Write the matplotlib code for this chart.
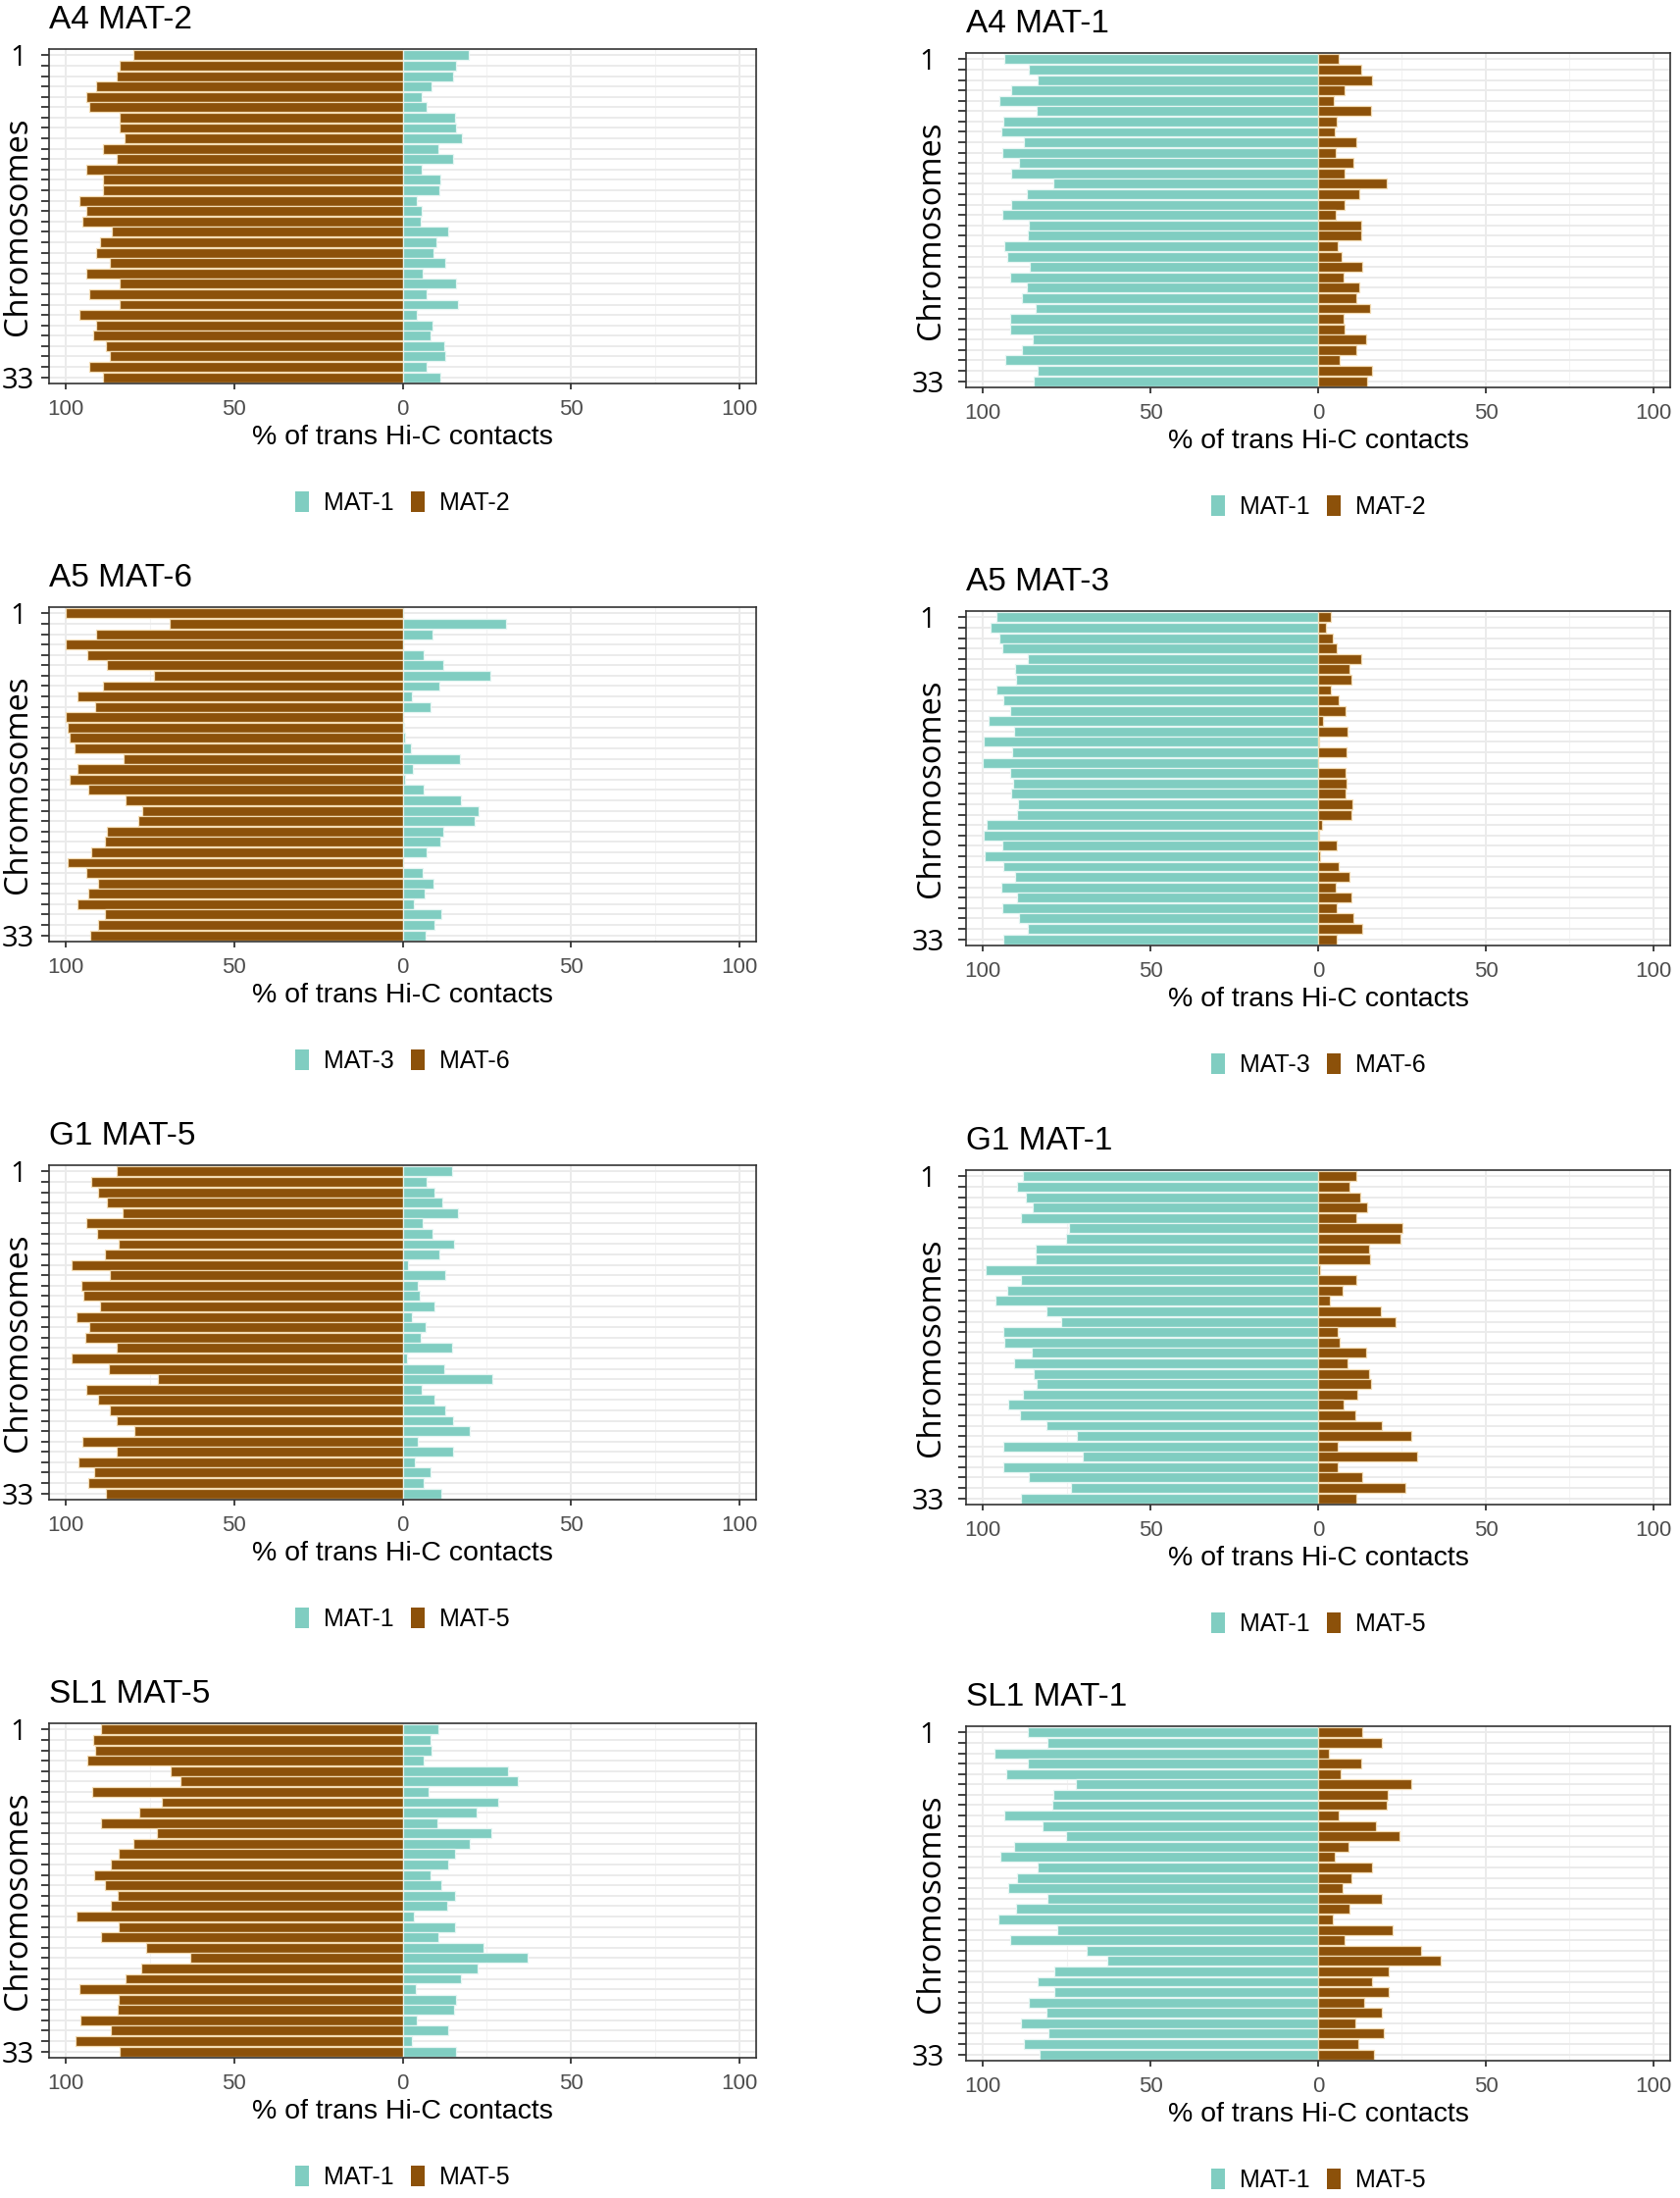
import matplotlib
matplotlib.use("Agg")
import matplotlib.pyplot as plt
from matplotlib.patches import Patch
import numpy as np

TEAL = "#80cdc1"
BROWN = "#8c510a"

# chromosome axis: 32 bars, only first and last get a label
chrom_labels = ["1"] + [""] * 30 + ["33"]
x_ticks = [-100, -50, 0, 50, 100]
x_ticklabels = ["100", "50", "0", "50", "100"]

# --- data (left = own mating type, right = partner) ---
# A4 MAT-2
a4_mat2_left = [80, 84, 85, 91, 94, 93, 84, 84, 82.5, 89, 85, 94, 89, 89, 96, 94,
                95, 86.5, 90, 91, 87, 94, 84, 93, 84, 96, 91, 92, 88, 87, 93, 89]
a4_mat2_right = [19.8, 16, 15, 8.7, 5.7, 7.2, 15.7, 16, 17.7, 10.5, 15, 5.7, 11.2, 10.8, 4.2, 5.7,
                 5.4, 13.5, 10, 9.3, 12.7, 6, 16, 7, 16.5, 4.2, 9, 8.4, 12.4, 12.7, 7, 11.2]
# A4 MAT-1
a4_mat1_left = [93.7, 86.4, 83.6, 91.4, 95, 83.9, 93.8, 94.6, 87.8, 94.1, 89.2, 91.6, 79, 87, 91.4, 94.1,
                86.3, 86.6, 93.7, 92.6, 86.1, 91.9, 87, 88.3, 84.2, 91.9, 91.7, 85.2, 88.3, 93.2, 83.6, 84.9]
a4_mat1_right = [6, 12.8, 16.1, 8, 4.7, 15.8, 5.7, 5.1, 11.4, 5.3, 10.5, 8, 20.5, 12.3, 8, 5.3,
                 12.8, 12.8, 5.9, 6.9, 13.3, 7.5, 12.3, 11.4, 15.4, 7.5, 7.8, 14.2, 11.4, 6.3, 16.1, 14.6]
# A5 MAT-6
a5_mat6_left = [100, 69.2, 90.9, 100, 93.5, 87.8, 73.8, 88.9, 96.6, 91.4, 100, 99.4, 98.9, 97.5, 82.9, 96.5,
                98.9, 93.4, 82.4, 77.3, 78.6, 87.8, 88.4, 92.6, 99.5, 93.8, 90.4, 93.4, 96.5, 88.3, 90.4, 92.9]
a5_mat6_right = [0, 30.8, 8.9, 0, 6.3, 12, 26, 10.8, 2.8, 8.3, 0, 0.4, 0.8, 2.5, 17, 3.2,
                 0.8, 6.3, 17.3, 22.5, 21.3, 12, 11.2, 7.2, 0, 6, 9.1, 6.5, 3.4, 11.6, 9.4, 6.9]
# A5 MAT-3
a5_mat3_left = [96, 97.8, 95.2, 94.3, 86.7, 90.5, 90.2, 96, 94, 91.7, 98.4, 90.8, 99.7, 91.3, 100, 91.7,
                91.1, 91.4, 89.4, 89.8, 98.9, 99.8, 94.3, 99.4, 93.8, 90.3, 94.6, 89.8, 94.3, 89.2, 86.7, 93.8]
a5_mat3_right = [3.7, 2.4, 4.4, 5.6, 13, 9.4, 9.8, 3.7, 6.2, 8.1, 1.6, 8.9, 0.3, 8.6, 0, 8.1,
                 8.6, 8.3, 10.3, 10, 1.1, 0.3, 5.7, 0.5, 6.2, 9.4, 5.4, 10, 5.7, 10.6, 13.2, 5.7]
# G1 MAT-5
g1_mat5_left = [84.8, 92.6, 90.3, 87.7, 83.3, 93.8, 90.6, 84.2, 88.5, 98.2, 86.8, 95.4, 94.7, 90, 96.7, 93,
                94.2, 84.8, 98.2, 87.3, 72.8, 93.8, 90.4, 87, 84.8, 79.8, 95, 84.8, 96.4, 91.5, 93.3, 88.2]
g1_mat5_right = [14.7, 7, 9.4, 11.8, 16.5, 5.9, 9, 15.2, 10.9, 1.7, 12.6, 4.4, 5.2, 9.4, 2.9, 6.7,
                 5.5, 14.7, 1.2, 12.3, 26.7, 5.8, 9.4, 12.7, 14.9, 20, 4.6, 14.9, 3.5, 8.2, 6.4, 11.4]
# G1 MAT-1
g1_mat1_left = [88, 89.9, 87.3, 85.2, 88.7, 74.2, 75.2, 84.3, 84.3, 99.1, 88.7, 92.6, 96.2, 81.1, 76.6, 94,
                93.6, 85.5, 90.7, 84.7, 84, 88, 92.3, 88.8, 81.1, 72, 93.9, 70.3, 93.9, 86.3, 73.6, 88.7]
g1_mat1_right = [11.5, 9.4, 12.6, 14.6, 11.5, 25.2, 24.7, 15.3, 15.6, 0.6, 11.5, 7.4, 3.6, 18.6, 23, 5.8,
                 6.3, 14.2, 8.8, 15.3, 15.9, 11.8, 7.7, 11, 19, 27.7, 5.8, 29.6, 5.8, 13.2, 25.9, 11.3]
# SL1 MAT-5
sl1_mat5_left = [89.6, 91.9, 91.3, 93.7, 68.9, 66.1, 92.3, 71.6, 78.1, 89.6, 73.1, 80, 84.4, 86.6, 91.7, 88.4,
                 84.5, 86.6, 96.7, 84.4, 89.5, 76.1, 63.1, 77.6, 82.4, 96.1, 84.2, 84.5, 95.8, 86.6, 97.1, 84.1]
sl1_mat5_right = [10.5, 8.3, 8.7, 6.3, 31.2, 34.1, 7.7, 28.4, 21.9, 10.4, 26.4, 20, 15.6, 13.4, 8.4, 11.4,
                  15.5, 13.2, 3.3, 15.6, 10.5, 23.9, 37.1, 22.4, 17.4, 3.8, 15.9, 15.3, 4.2, 13.4, 2.9, 15.9]
# SL1 MAT-1
sl1_mat1_left = [86.5, 80.7, 96.6, 86.7, 93.1, 72.1, 79, 79.3, 93.7, 82.2, 75.2, 90.6, 94.8, 83.6, 89.9, 92.5,
                 80.8, 90.2, 95.4, 77.8, 91.9, 69, 63, 78.7, 83.7, 78.7, 86.2, 81, 88.5, 80.5, 87.7, 83.1]
sl1_mat1_right = [13.3, 19, 3.2, 13, 6.6, 27.8, 20.7, 20.4, 6, 17.3, 24.4, 9, 5.1, 16.1, 9.8, 7.2,
                  18.9, 9.5, 4.3, 22.1, 7.8, 30.7, 36.7, 21.2, 16, 21.2, 13.7, 18.9, 11.2, 19.5, 12, 16.7]

titles = ["A4 MAT-2", "A4 MAT-1", "A5 MAT-6", "A5 MAT-3",
          "G1 MAT-5", "G1 MAT-1", "SL1 MAT-5", "SL1 MAT-1"]
legend_pairs = [("MAT-1", "MAT-2"), ("MAT-1", "MAT-2"), ("MAT-3", "MAT-6"), ("MAT-3", "MAT-6"),
                ("MAT-1", "MAT-5"), ("MAT-1", "MAT-5"), ("MAT-1", "MAT-5"), ("MAT-1", "MAT-5")]
left_series = [a4_mat2_left, a4_mat1_left, a5_mat6_left, a5_mat3_left,
               g1_mat5_left, g1_mat1_left, sl1_mat5_left, sl1_mat1_left]
right_series = [a4_mat2_right, a4_mat1_right, a5_mat6_right, a5_mat3_right,
                g1_mat5_right, g1_mat1_right, sl1_mat5_right, sl1_mat1_right]

# --- layout in pixels (figure is 1713 x 2241 at dpi 100) ---
W, H = 1713, 2241
col_x = [50, 985]
col_w = [721, 718]
row_top = [[50, 619, 1188, 1757], [54, 623, 1193, 1760]]
box_h = 341

fig = plt.figure(figsize=(W / 100, H / 100), dpi=100)
fig.patch.set_facecolor("white")

y = np.arange(len(chrom_labels))
sans = ["Liberation Sans", "DejaVu Sans"]
open_sans = ["Open Sans", "DejaVu Sans"]

for i in range(8):
    col = i % 2
    row = i // 2
    x0 = col_x[col]
    top = row_top[col][row]
    ax = fig.add_axes([x0 / W, 1 - (top + box_h) / H, col_w[col] / W, box_h / H])

    # own mating type on the left: brown in left column, teal in right column
    if col == 0:
        lcol, rcol = BROWN, TEAL
    else:
        lcol, rcol = TEAL, BROWN
    edge = {BROWN: "#f3dcb4", TEAL: "#e6f6f3"}

    ax.barh(y, -np.array(left_series[i]), height=0.94, color=lcol,
            edgecolor=edge[lcol], linewidth=0.9, zorder=2)
    ax.barh(y, np.array(right_series[i]), height=0.94, color=rcol,
            edgecolor=edge[rcol], linewidth=0.9, zorder=2)

    ax.set_xlim(-105, 105)
    ax.set_ylim(len(y) - 1 + 0.6, -0.6)

    ax.set_xticks(x_ticks)
    ax.set_xticklabels(x_ticklabels, fontsize=16, color="#4d4d4d", family=sans)
    ax.set_xticks([-75, -25, 25, 75], minor=True)
    ax.set_yticks(y)
    ax.set_yticklabels(chrom_labels, fontsize=21, family=open_sans)
    for t in ax.get_yticklabels():
        t.set_horizontalalignment("center")

    ypad = 17 if col == 0 else 22.4
    ax.tick_params(axis="y", length=5.8, width=1.3, color="#333333", pad=ypad)
    ax.tick_params(axis="x", which="major", length=4.3, width=1.3, color="#333333", pad=7)
    ax.tick_params(axis="x", which="minor", length=0)

    ax.set_axisbelow(True)
    ax.grid(True, which="major", axis="both", color="#ebebeb", linewidth=1.4, zorder=0)
    ax.grid(True, which="minor", axis="x", color="#f3f3f3", linewidth=0.8, zorder=0)
    for s in ax.spines.values():
        s.set_color("#333333")
        s.set_linewidth(1.2)

    ax.set_title(titles[i], loc="left", pad=15, fontsize=24, family=sans)

    ax.set_xlabel("% of trans Hi-C contacts", fontsize=20.5, family=sans)
    ax.xaxis.set_label_coords(0.5, -42 / box_h)
    ax.xaxis.label.set_verticalalignment("top")

    ylab_off = 31 if col == 0 else 36
    ax.text(-ylab_off / col_w[col], 0.47, "Chromosomes", rotation=90, transform=ax.transAxes,
            ha="center", va="center", fontsize=23.5, family=open_sans)

    handles = [Patch(facecolor=TEAL, edgecolor="none", label=legend_pairs[i][0]),
               Patch(facecolor=BROWN, edgecolor="none", label=legend_pairs[i][1])]
    ax.legend(handles=handles, loc="center", bbox_to_anchor=(0.5, -122 / box_h), ncol=2,
              frameon=False, handlelength=0.55, handleheight=0.9, handletextpad=0.6,
              columnspacing=0.7, prop={"family": sans, "size": 18})

fig.savefig("out.png", dpi=100, facecolor="white")
